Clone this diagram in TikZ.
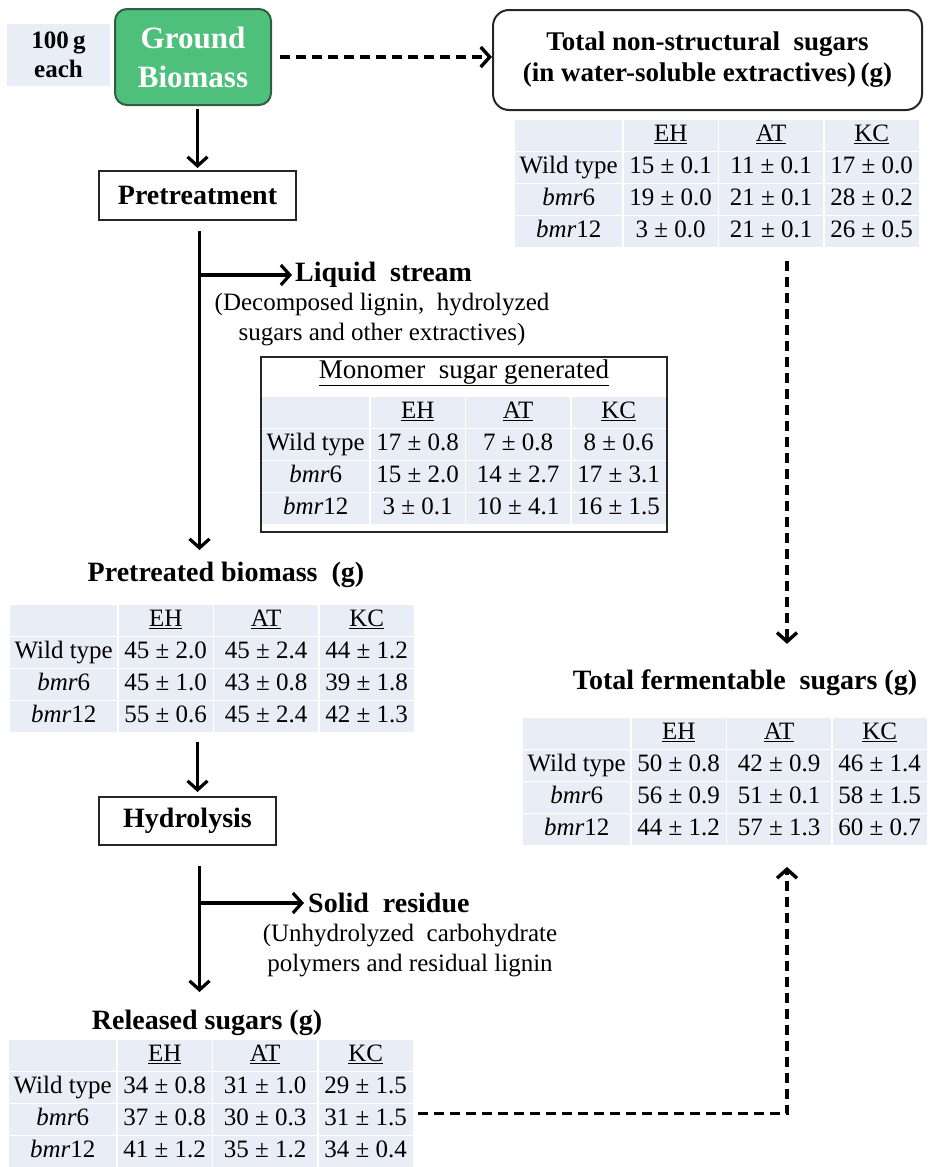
\documentclass[tikz,border=0pt]{standalone}
\usepackage{fontspec}
\setmainfont{Liberation Serif}
\usetikzlibrary{matrix,arrows.meta}

\definecolor{tabbg}{HTML}{E9EDF5}
\definecolor{grnfill}{HTML}{4FC07C}
\definecolor{grnedge}{HTML}{2F5E40}
\newcommand{\tabfont}{\fontsize{25}{28}\selectfont}
\newcommand{\ttlfont}{\fontsize{28}{31}\selectfont\bfseries}
\newcommand{\subfont}{\fontsize{25}{30}\selectfont}

\tikzset{
  sugartab/.style={matrix of nodes, nodes in empty cells, anchor=north west,
    inner sep=0pt, column sep=1.5pt, row sep=1.5pt,
    nodes={fill=tabbg, font=\tabfont, minimum height=30.5pt,
      text height=17pt, text depth=5pt},
    column 1/.style={nodes={minimum width=107pt}},
    column 2/.style={nodes={minimum width=94pt}},
    column 3/.style={nodes={minimum width=104pt}},
    column 4/.style={nodes={minimum width=94pt}}},
  flowbox/.style={draw=black!85, line width=2pt, font=\ttlfont},
  arr/.style={line width=3.2pt, -{Straight Barb[length=9pt,width=20pt]}},
  dasharr/.style={arr, line width=3.4pt, dash pattern=on 10pt off 6pt},
}

\begin{document}
\begin{tikzpicture}[x=1pt,y=-1pt]
\tikzstyle{every node}+=[inner sep=0pt]
\useasboundingbox (0,0) rectangle (930,1167);
% start
\node [fill=tabbg, minimum width=103pt, minimum height=62pt, align=center,
  font=\fontsize{25}{29}\selectfont\bfseries] (each) at (58.5,55) {100\,g\\each};
\node [fill=grnfill, draw=grnedge, line width=2pt, rounded corners=12pt,
  minimum width=156pt, minimum height=96pt, align=center, text=white,
  font=\fontsize{31}{39}\selectfont\bfseries] (ground) at (193,57) {Ground\\Biomass};
\node [draw=black!85, line width=2pt, rounded corners=16pt, minimum width=429pt,
  minimum height=100pt, align=center, font=\fontsize{27}{31}\selectfont\bfseries]
  (nsbox) at (707.5,60) {Total non-structural~ sugars\\(in water-soluble extractives)\,(g)};
\matrix [sugartab] (nstab) at (515,120) {
  & \underline{EH} & \underline{AT} & \underline{KC} \\
  Wild type & 15 ± 0.1 & 11 ± 0.1 & 17 ± 0.0 \\
  \textit{bmr}6 & 19 ± 0.0 & 21 ± 0.1 & 28 ± 0.2 \\
  \textit{bmr}12 & 3 ± 0.0 & 21 ± 0.1 & 26 ± 0.5 \\
};
% pretreatment branch
\node [flowbox, minimum width=197pt, minimum height=49pt] (pre) at (197.5,195.5) {Pretreatment};
\node [font=\ttlfont, anchor=west] (liquid) at (295,275) {Liquid~ stream};
\node [font=\subfont, align=center] (liqnote) at (382,320)
  {(Decomposed lignin,~ hydrolyzed\\sugars and other extractives)};
\node [draw=black!85, line width=2pt, minimum width=406pt, minimum height=175pt]
  (monobox) at (464,444.5) {};
\node [font=\fontsize{27}{30}\selectfont] (montitle) at (464,373)
  {\underline{Monomer~ sugar generated}};
\matrix [sugartab] (montab) at (262,397) {
  & \underline{EH} & \underline{AT} & \underline{KC} \\
  Wild type & 17 ± 0.8 & 7 ± 0.8 & 8 ± 0.6 \\
  \textit{bmr}6 & 15 ± 2.0 & 14 ± 2.7 & 17 ± 3.1 \\
  \textit{bmr}12 & 3 ± 0.1 & 10 ± 4.1 & 16 ± 1.5 \\
};
\node [font=\ttlfont] (pttitle) at (226,575) {Pretreated biomass~ (g)};
\matrix [sugartab] (pttab) at (10,605) {
  & \underline{EH} & \underline{AT} & \underline{KC} \\
  Wild type & 45 ± 2.0 & 45 ± 2.4 & 44 ± 1.2 \\
  \textit{bmr}6 & 45 ± 1.0 & 43 ± 0.8 & 39 ± 1.8 \\
  \textit{bmr}12 & 55 ± 0.6 & 45 ± 2.4 & 42 ± 1.3 \\
};
% hydrolysis branch
\node [flowbox, minimum width=177pt, minimum height=48pt] (hyd) at (187.5,821) {Hydrolysis};
\node [font=\ttlfont, anchor=west] (solid) at (308,903) {Solid~ residue};
\node [font=\subfont, align=center] (solnote) at (410,951)
  {(Unhydrolyzed~ carbohydrate\\polymers and residual lignin};
\node [font=\ttlfont] (reltitle) at (207,1023) {Released sugars (g)};
\matrix [sugartab] (reltab) at (9,1040) {
  & \underline{EH} & \underline{AT} & \underline{KC} \\
  Wild type & 34 ± 0.8 & 31 ± 1.0 & 29 ± 1.5 \\
  \textit{bmr}6 & 37 ± 0.8 & 30 ± 0.3 & 31 ± 1.5 \\
  \textit{bmr}12 & 41 ± 1.2 & 35 ± 1.2 & 34 ± 0.4 \\
};
% totals
\node [font=\ttlfont] (fermtitle) at (745,683) {Total fermentable~ sugars (g)};
\matrix [sugartab] (fermtab) at (523,718) {
  & \underline{EH} & \underline{AT} & \underline{KC} \\
  Wild type & 50 ± 0.8 & 42 ± 0.9 & 46 ± 1.4 \\
  \textit{bmr}6 & 56 ± 0.9 & 51 ± 0.1 & 58 ± 1.5 \\
  \textit{bmr}12 & 44 ± 1.2 & 57 ± 1.3 & 60 ± 0.7 \\
};
\coordinate (drop) at (787,0);
% arrows
\draw [arr, shorten <=3pt, shorten >=2pt] (ground.south -| pre.north) -- (pre.north);
\draw [dasharr, shorten <=8pt] (ground.east) -- (ground.east -| nsbox.west);
\draw [arr, shorten <=10pt, shorten >=12pt] ([xshift=2pt]pre.south) -- ([xshift=2pt]pre.south |- pttitle.north);
\draw [arr, shorten >=3pt] ([xshift=2pt]pre.south |- liquid.west) -- (liquid.west);
\draw [arr, shorten <=10pt, shorten >=4pt] (pre.south |- pttab.south) -- (pre.south |- hyd.north);
\draw [arr, shorten <=20pt, shorten >=18pt] ([xshift=2pt]pre.south |- hyd.south) -- ([xshift=2pt]pre.south |- reltitle.north);
\draw [arr, shorten >=4pt] ([xshift=2pt]pre.south |- solid.west) -- (solid.west);
\draw [dasharr, shorten <=14pt, shorten >=26pt] (nstab.south -| drop) -- (fermtitle.north -| drop);
\draw [dasharr, shorten >=22pt] ([xshift=5pt,yshift=6pt]reltab-3-4.east) -| (fermtab.south -| drop);
\end{tikzpicture}
\end{document}
